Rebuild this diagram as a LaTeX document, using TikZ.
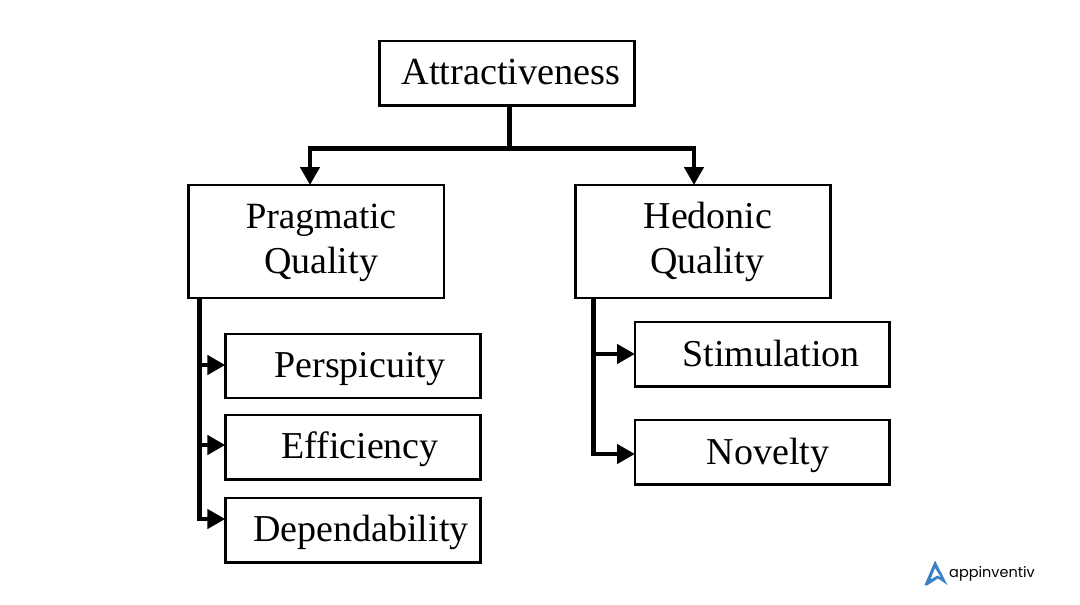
\documentclass[tikz,border=0pt]{standalone}
\usepackage{fontspec}
\setmainfont{Liberation Serif}
\newfontfamily\logofont{Poppins}
\usetikzlibrary{arrows.meta,calc}
\definecolor{logoblue}{HTML}{3A84C4}
\tikzset{
  box/.style={draw=black,line width=2.8pt,fill=white,inner sep=0pt,outer sep=0pt},
  txt/.style={anchor=base,inner sep=0pt,font=\fontsize{38}{38}\selectfont},
  link/.style={draw=black,line width=4.5pt},
  arr/.style={link,-{Triangle[length=18pt,width=19pt,inset=0pt]},shorten >=0pt},
}
\newcommand{\boxat}[5]{\node[box,minimum width=#4pt-#2pt,minimum height=#5pt-#3pt] (#1) at ({(#2+#4)/2},{(#3+#5)/2}) {};}
\begin{document}
\begin{tikzpicture}[x=1pt,y=-1pt]
\useasboundingbox (0,0) rectangle (1080,605);
\coordinate (top) at (509.5,148.5);
\coordinate (tl) at (310,148.5);
\coordinate (tr) at (694,148.5);
\coordinate (lt) at (199.5,298);
\coordinate (lb) at (199.5,519);
\coordinate (rt) at (593.5,298);
\coordinate (rb) at (593.5,454);
\draw[link,line cap=rect] (lt) -- (lb);
\draw[link,line cap=rect] (rt) -- (rb);
\boxat{a}{379.3}{41}{634.7}{105.7}
\boxat{p}{188.3}{185}{444}{298}
\boxat{h}{575.3}{185}{830.7}{298}
\boxat{pe}{225.3}{334}{480.7}{398}
\boxat{ef}{225.3}{415}{480.7}{479.7}
\boxat{de}{225.3}{498}{480.7}{562.7}
\boxat{st}{635}{322}{889.7}{386.7}
\boxat{no}{635}{420}{889.7}{484.7}
\node[txt] (ta) at (511,84.5) {\fontsize{38.3}{38}\selectfont Attractiveness};
\node[txt] (tp1) at (321,228.5) {\fontsize{37}{38}\selectfont Pragmatic};
\node[txt] (tp2) at (321,273.5) {Quality};
\node[txt] (th1) at (708,228.5) {Hedonic};
\node[txt] (th2) at (707,273.5) {Quality};
\node[txt] (tpe) at (360,377.5) {Perspicuity};
\node[txt] (tef) at (360,458.5) {Efficiency};
\node[txt] (tde) at (361,541.5) {Dependability};
\node[txt] (tst) at (771,366.5) {Stimulation};
\node[txt] (tno) at (768,464.5) {Novelty};
\draw[link] (top |- a.south) -- (top);
\draw[link,line cap=rect] (tl) -- (tr);
\draw[arr] (tl) -- (tl |- p.north);
\draw[arr] (tr) -- (tr |- h.north);
\draw[arr] (199.5,365) -- (225,365 -| pe.west);
\draw[arr] (199.5,445) -- (225,445 -| ef.west);
\draw[arr] (lb) -- (lb -| de.west);
\draw[arr] (593.5,354) -- (635,354 -| st.west);
\draw[arr] (rb) -- (rb -| no.west);
\fill[logoblue,even odd rule] (935,560.5) -- (947.5,585) -- (938,578.5) -- (927,585.5) -- (924.5,585) -- cycle
  (935,568) -- (930.5,579.5) -- (937.5,575.5) -- (941,577.5) -- cycle;
\node[anchor=base west,inner sep=0pt,font=\logofont\fontsize{14.5}{14.5}\selectfont] (logo) at (949,577) {appinventiv};
\end{tikzpicture}
\end{document}
